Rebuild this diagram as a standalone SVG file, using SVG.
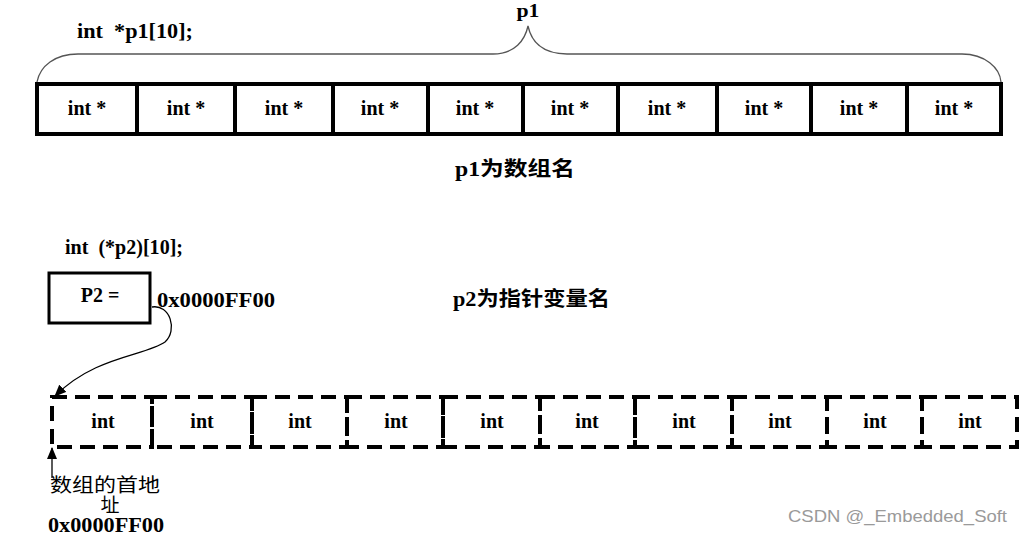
<svg xmlns="http://www.w3.org/2000/svg" width="1023" height="535" viewBox="0 0 1023 535">
<style>
.t{font-family:"Liberation Serif","Noto Sans CJK SC",serif;font-weight:bold;font-size:20px;fill:#000}
.c{text-anchor:middle}
.cj{font-family:"Liberation Serif","Noto Sans CJK SC",serif;font-size:19px;fill:#000}
.cell{fill:#fff;stroke:#000;stroke-width:4}
.dcell{fill:none;stroke:#000;stroke-width:4;stroke-dasharray:15 8}
.brace{fill:none;stroke:#555;stroke-width:1.3}
.conn{fill:none;stroke:#000;stroke-width:1.3}
.wm{font-family:"Liberation Sans",Arial,sans-serif;font-size:17px;fill:#9a9a9a}
</style>
<defs>
<marker id="arr" viewBox="0 0 12 10" refX="11" refY="5" markerWidth="12" markerHeight="10" markerUnits="userSpaceOnUse" orient="auto">
<path d="M0,0 L12,5 L0,10 Z" fill="#000"/>
</marker>
</defs>
<rect width="1023" height="535" fill="#fff"/>

<g id="decl1"><text class="t" x="77" y="38" xml:space="preserve" textLength="116" lengthAdjust="spacingAndGlyphs">int  *p1[10];</text></g>
<g id="label-p1"><text class="t c" x="528" y="17" style="font-size:18px" textLength="23" lengthAdjust="spacingAndGlyphs">p1</text></g>
<g id="brace"><path class="brace" d="M37,82 C40,66 55,54 78,54 L493,54 C515,54 525,40 528,26 C531,40 541,54 567,54 L962,54 C985,54 1000,68 1001,82"/></g>

<g id="array-p1">
<rect class="cell" x="37" y="84" width="964" height="50"/>
<g id="p1-0"><text class="t c" x="87" y="115">int *</text></g>
<g id="p1-1"><text class="t c" x="186" y="115">int *</text></g>
<g id="p1-2"><text class="t c" x="284" y="115">int *</text></g>
<g id="p1-3"><text class="t c" x="380" y="115">int *</text></g>
<g id="p1-4"><text class="t c" x="475" y="115">int *</text></g>
<g id="p1-5"><text class="t c" x="570" y="115">int *</text></g>
<g id="p1-6"><text class="t c" x="667" y="115">int *</text></g>
<g id="p1-7"><text class="t c" x="764" y="115">int *</text></g>
<g id="p1-8"><text class="t c" x="859" y="115">int *</text></g>
<g id="p1-9"><text class="t c" x="954" y="115">int *</text></g>
<path d="M137,84V134M235,84V134M333,84V134M428,84V134M523,84V134M618,84V134M717,84V134M811,84V134M907,84V134" stroke="#000" stroke-width="4"/>
</g>

<g id="note1"><text class="t" x="455" y="176" textLength="120" lengthAdjust="spacingAndGlyphs">p1为数组名</text></g>

<g id="decl2"><text class="t" x="65" y="254" xml:space="preserve" textLength="118" lengthAdjust="spacingAndGlyphs">int  (*p2)[10];</text></g>
<g id="p2-box">
<rect x="49" y="273" width="101" height="50" fill="#fff" stroke="#000" stroke-width="3"/>
<text class="t c" x="100" y="302">P2 =</text>
</g>
<g id="p2-value"><text class="t" x="157" y="307" textLength="118" lengthAdjust="spacingAndGlyphs">0x0000FF00</text></g>
<g id="note2"><text class="t" x="453" y="306" textLength="157" lengthAdjust="spacingAndGlyphs">p2为指针变量名</text></g>

<g id="array-p2">
<rect class="dcell" x="52" y="397" width="100" height="50"/>
<rect class="dcell" x="152" y="397" width="100" height="50"/>
<rect class="dcell" x="252" y="397" width="95" height="50"/>
<rect class="dcell" x="347" y="397" width="96" height="50"/>
<rect class="dcell" x="443" y="397" width="97" height="50"/>
<rect class="dcell" x="540" y="397" width="95" height="50"/>
<rect class="dcell" x="635" y="397" width="97" height="50"/>
<rect class="dcell" x="732" y="397" width="95" height="50"/>
<rect class="dcell" x="827" y="397" width="95" height="50"/>
<rect class="dcell" x="922" y="397" width="95" height="50"/>
<g id="p2-0"><text class="t c" x="103" y="428">int</text></g>
<g id="p2-1"><text class="t c" x="202" y="428">int</text></g>
<g id="p2-2"><text class="t c" x="300" y="428">int</text></g>
<g id="p2-3"><text class="t c" x="396" y="428">int</text></g>
<g id="p2-4"><text class="t c" x="492" y="428">int</text></g>
<g id="p2-5"><text class="t c" x="587" y="428">int</text></g>
<g id="p2-6"><text class="t c" x="684" y="428">int</text></g>
<g id="p2-7"><text class="t c" x="780" y="428">int</text></g>
<g id="p2-8"><text class="t c" x="875" y="428">int</text></g>
<g id="p2-9"><text class="t c" x="970" y="428">int</text></g>
</g>

<g id="connectors">
<path class="conn" d="M152,307 C170,304 178,330 165,342 C145,356 95,356 55,396" marker-end="url(#arr)"/>
<path class="conn" d="M52,478 V448" marker-end="url(#arr)"/>
</g>

<g id="addr-label">
<text class="cj" x="50" y="492" textLength="110" lengthAdjust="spacingAndGlyphs">数组的首地</text>
<text class="cj c" x="110" y="512">址</text>
<text class="t" x="48" y="532" textLength="116" lengthAdjust="spacingAndGlyphs">0x0000FF00</text>
</g>

<text class="wm" x="788" y="522" textLength="219" lengthAdjust="spacingAndGlyphs">CSDN @_Embedded_Soft</text>
</svg>
